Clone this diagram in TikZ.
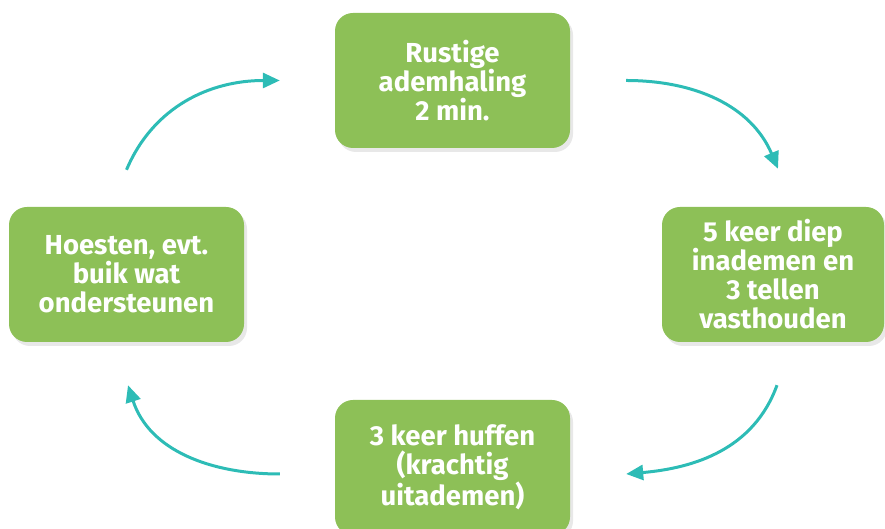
\documentclass[tikz,border=0pt]{standalone}
\usepackage{fontspec}
\setmainfont{Fira Sans}
\usetikzlibrary{arrows.meta,shadows,positioning}
\definecolor{boxgreen}{HTML}{8DC057}
\definecolor{cycleteal}{HTML}{2DBCB6}

\begin{document}
\begin{tikzpicture}[x=1pt,y=1pt,>={Triangle[length=17pt,width=15pt]},
  phase/.style={fill=boxgreen,rounded corners=18pt,minimum width=235pt,minimum height=135pt,
    align=center,text=white,font={\fontsize{27.5}{29}\selectfont\bfseries},inner sep=0pt,
    drop shadow={shadow xshift=3pt,shadow yshift=-4pt,opacity=0.18}},
  cycle/.style={->,draw=cycleteal,line width=3pt}]
\useasboundingbox (0,0) rectangle (885,529);
% boxes
\node[phase] (rust) at (452.5,448.5) {Rustige\\ademhaling\\2 min.};
\node[phase,minimum width=222pt] (diep) at (773,254.5) {5 keer diep\\inademen en\\3 tellen\\vasthouden};
\node[phase] (huff) at (452.5,61.5) {3 keer huffen\\(krachtig\\uitademen)};
\node[phase] (hoest) at (126.5,254.5) {Hoesten, evt.\\buik wat\\ondersteunen};

% arrows
\begin{scope}[cycle]
\draw ([xshift=56pt]rust.east) to[out=0,in=113] ([xshift=5pt,yshift=38pt]diep.north);
\draw ([xshift=4pt,yshift=-43pt]diep.south) to[out=-110,in=5] ([xshift=56pt,yshift=-6.5pt]huff.east);
\draw ([xshift=-55pt,yshift=-6.5pt]huff.west) to[out=180,in=-72] ([xshift=1.5pt,yshift=-43pt]hoest.south);
\draw ([yshift=37pt]hoest.north) to[out=67,in=180] ([xshift=-55pt]rust.west);
\end{scope}

\end{tikzpicture}
\end{document}
